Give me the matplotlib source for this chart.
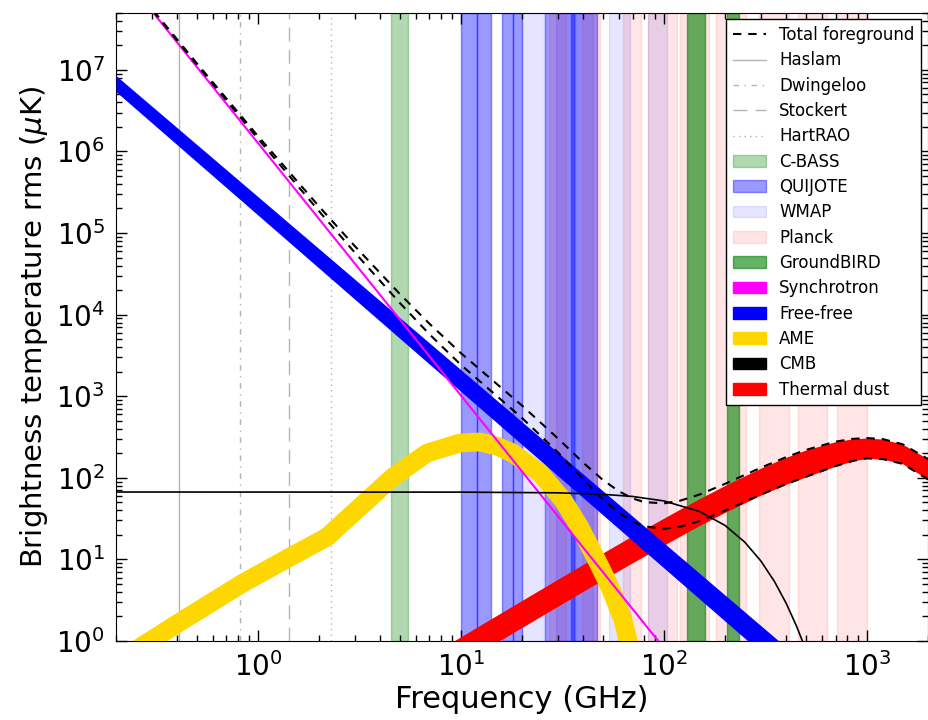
import numpy as np
import matplotlib.pyplot as plt
import matplotlib.patches as mpatches
from matplotlib.lines import Line2D
from matplotlib.ticker import LogLocator

plt.rcParams['font.family'] = 'DejaVu Sans'
plt.rcParams['mathtext.fontset'] = 'dejavusans'
plt.rcParams['lines.scale_dashes'] = False
plt.rcParams['xtick.direction'] = 'in'
plt.rcParams['ytick.direction'] = 'in'
plt.rcParams['xtick.top'] = True
plt.rcParams['ytick.right'] = True

# frequency bands of the experiments (GHz)
cbass_bands = [(4.5, 5.5)]
quijote_bands = [(10, 12), (12, 14), (16, 18), (18, 20), (26, 36), (35, 47)]
wmap_bands = [(20.05, 25.55), (29.5, 36.5), (36.55, 44.85), (53.8, 67.8), (83.25, 103.75)]
planck_bands = [(27, 33), (39.6, 48.4), (63, 77), (83.5, 116.5), (119.4, 166.6),
                (181.2, 252.8), (294.8, 411.2), (455.1, 634.9), (715.6, 998.4)]
groundbird_bands = [(130, 160), (205, 235)]

# low frequency surveys (GHz)
surveys = ['Haslam', 'Dwingeloo', 'Stockert', 'HartRAO']
survey_freq = [0.408, 0.82, 1.42, 2.3]

# components, rms in uK
sync_nu = [0.2, 100]
sync_T = [1.85e8, 0.82]

ff_nu = [0.2, 1000]
ff_hi = [8.5e6, 0.12]
ff_lo = [5.4e6, 0.054]

ame_nu = [0.2, 0.294, 0.413, 0.844, 1.44, 2.19, 3.18, 4.62, 6.8, 9.89, 12.4, 15.0,
          18.0, 24.5, 31.8, 38.5, 46.7, 54.2, 62.8, 66.5, 75]
ame_T = [0.54, 1.0, 1.71, 5.14, 10.7, 18.8, 43.9, 102, 201, 267, 275, 245,
         201, 115, 53.4, 24.9, 9.8, 4.59, 1.81, 1.03, 0.2]

cmb_nu = [0.2, 10, 30, 50, 70, 100, 150, 200, 250, 300, 350, 400, 450, 500, 550]
cmb_T = [67, 66.8, 65.5, 62.8, 59.1, 52.1, 38.6, 26.1, 16.3, 9.59, 5.38, 2.90, 1.52, 0.78, 0.39]

dust_nu = [8, 10, 15, 20, 30, 40, 50, 60, 70, 80, 100, 120, 150, 200, 300, 400, 500,
           700, 850, 1000, 1200, 1500, 2000]
dust_hi = [0.81, 1.13, 2.06, 3.15, 5.72, 8.70, 12.0, 15.6, 19.5, 23.5, 32.1, 41.3, 55.7,
           80.8, 131.5, 178.6, 219.3, 277.4, 300.1, 307.3, 297.8, 257.7, 169.9]
dust_lo = [0.38, 0.53, 0.96, 1.47, 2.67, 4.07, 5.62, 7.31, 9.11, 11.0, 15.0, 19.3, 26.1,
           37.8, 61.5, 83.5, 102.6, 139.0, 161.0, 172.9, 169.4, 148.3, 95.5]

tot_nu = [0.2, 0.3, 0.5, 1, 2, 3, 5, 7, 10, 15, 20, 30, 40, 50, 60, 70, 80, 100, 120,
          150, 200, 300, 400, 500, 700, 850, 1000, 1200, 1500, 2000]
tot_hi = [1.93e8, 5.62e7, 1.203e7, 1.544e6, 2.117e5, 6.92e4, 1.791e4, 7730, 3369, 1419,
          767, 305, 153.5, 94.3, 68.4, 56.0, 50.4, 48.6, 52.4, 62.5, 84.5, 133, 179.4,
          219.8, 277.6, 300.2, 307.4, 297.8, 257.7, 169.9]
tot_lo = [1.899e8, 5.49e7, 1.156e7, 1.432e6, 1.851e5, 5.77e4, 1.391e4, 5740, 2423, 1010,
          541, 206, 95.8, 54.6, 37.4, 29.1, 25.4, 23.7, 25.1, 29.6, 39.7, 62.2, 83.9,
          102.8, 139.1, 161, 173, 169.4, 148.3, 95.5]

fig = plt.figure(figsize=(9.29, 7.2), dpi=100)
ax = fig.add_axes([0.1249, 0.1097, 0.8741, 0.8725])
ax.set_xscale('log')
ax.set_yscale('log')

band_styles = [(cbass_bands, 'green', 0.3), (quijote_bands, 'blue', 0.4),
               (wmap_bands, 'blue', 0.1), (planck_bands, 'red', 0.1),
               (groundbird_bands, 'green', 0.6)]
for bands, c, a in band_styles:
    for lo, hi in bands:
        ax.axvspan(lo, hi, color=c, alpha=a, zorder=0)

survey_dashes = [(None), (4, 4, 1, 4), (10, 6), (1, 3)]
for f, d in zip(survey_freq, survey_dashes):
    if d is None:
        ax.axvline(f, color='0.7', lw=1, zorder=0.5)
    else:
        ax.axvline(f, color='0.7', lw=1, dashes=d, zorder=0.5)

ax.fill_between(dust_nu, dust_lo, dust_hi, color='red', lw=0, zorder=2)
ax.fill_between(ff_nu, ff_lo, ff_hi, color='blue', lw=0, zorder=3)
ax.plot(ame_nu, ame_T, color='gold', lw=13.5, solid_capstyle='butt', zorder=4)
ax.plot(sync_nu, sync_T, color='magenta', lw=1.5, zorder=5)
ax.plot(cmb_nu, cmb_T, color='k', lw=1.2, zorder=6)
ax.plot(tot_nu, tot_hi, color='k', lw=1.5, dashes=(6, 5), zorder=7)
ax.plot(tot_nu, tot_lo, color='k', lw=1.5, dashes=(6, 5), zorder=7)

ax.set_xlim(0.2, 2000)
ax.set_ylim(1, 5e7)
ax.yaxis.set_major_locator(LogLocator(base=10, numticks=20))
ax.yaxis.set_minor_locator(LogLocator(base=10, subs=np.arange(2, 10), numticks=100))
ax.xaxis.set_minor_locator(LogLocator(base=10, subs=np.arange(2, 10), numticks=100))
ax.tick_params(which='major', length=8, width=1, labelsize=20, pad=8)
ax.tick_params(which='minor', length=4, width=1)
ax.set_xlabel('Frequency (GHz)', fontsize=22, labelpad=2)
ax.set_ylabel(r'Brightness temperature rms ($\mu$K)', fontsize=21)

handles = [Line2D([], [], color='k', lw=1.5, dashes=(6, 5), label='Total foreground')]
for name, d in zip(surveys, survey_dashes):
    if d is None:
        handles.append(Line2D([], [], color='0.7', lw=1, label=name))
    else:
        handles.append(Line2D([], [], color='0.7', lw=1, dashes=d, label=name))
for name, c, a in [('C-BASS', 'green', 0.3), ('QUIJOTE', 'blue', 0.4), ('WMAP', 'blue', 0.1),
                   ('Planck', 'red', 0.1), ('GroundBIRD', 'green', 0.6)]:
    handles.append(mpatches.Patch(color=c, alpha=a, label=name))
for name, c in [('Synchrotron', 'magenta'), ('Free-free', 'blue'), ('AME', 'gold'),
                ('CMB', 'black'), ('Thermal dust', 'red')]:
    handles.append(mpatches.Patch(color=c, label=name))

leg = ax.legend(handles=handles, loc='upper right', fontsize=12, fancybox=False,
                framealpha=1, edgecolor='k', borderaxespad=0.4, handlelength=2,
                labelspacing=0.44)
leg.get_frame().set_linewidth(1)
leg.set_zorder(10)

fig.savefig('out.png', dpi=100, facecolor='white')
